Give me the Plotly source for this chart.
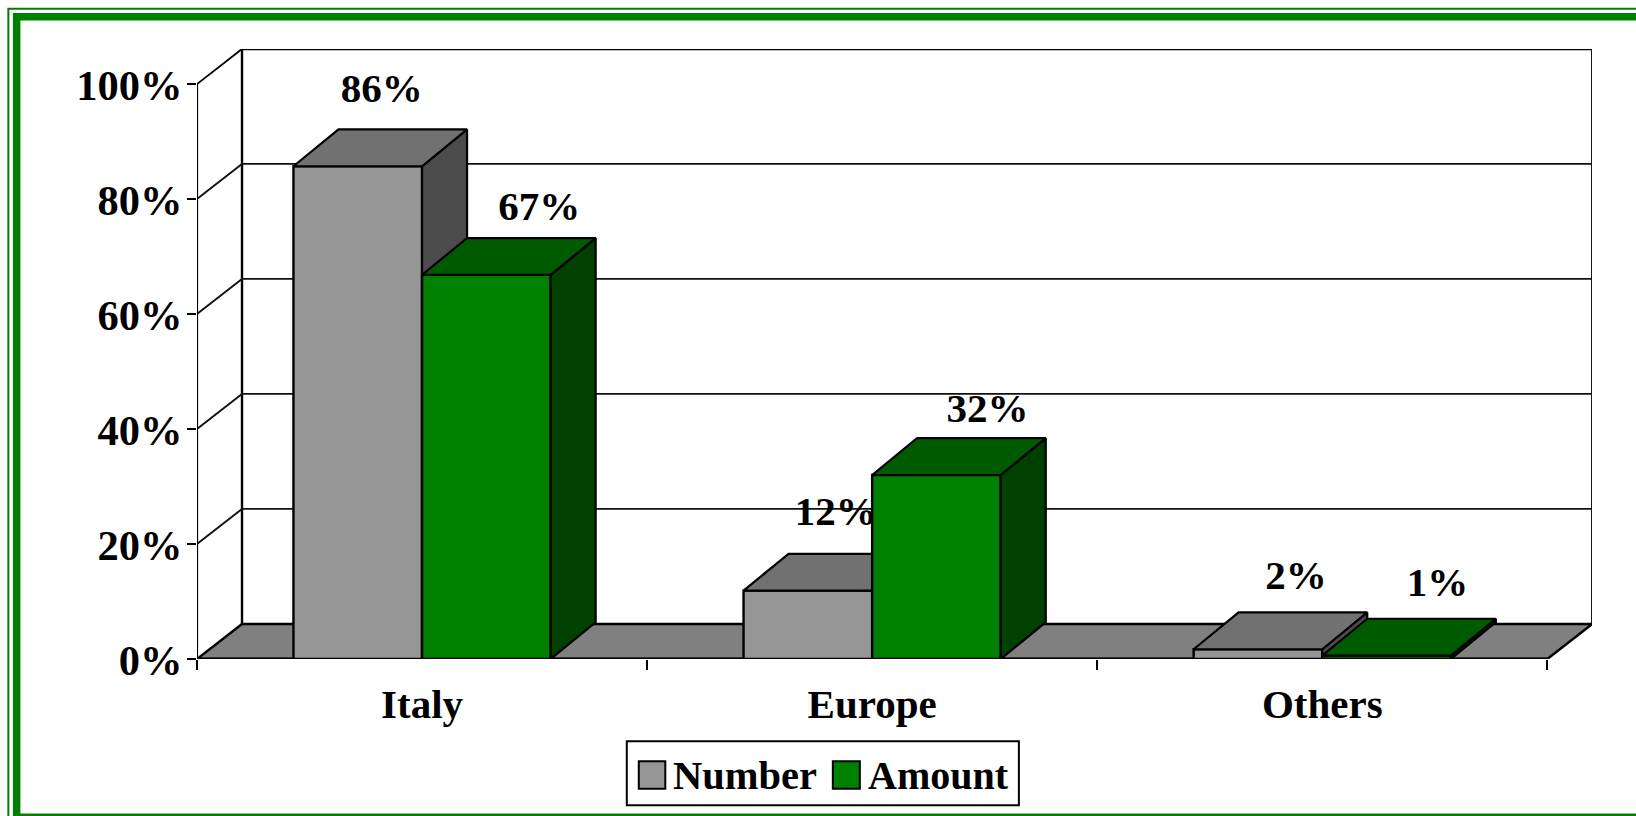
import plotly.graph_objects as go

# ---- data ----
CATEGORIES = ["Italy", "Europe", "Others"]
NUMBER = [85.7, 11.9, 1.7]
AMOUNT = [66.8, 32.0, 0.6]
Y_TICKS = [0, 20, 40, 60, 80, 100]
SERIES_NAMES = ["Number", "Amount"]

# ---- style / geometry ----
W, H = 1636, 816
FONT = "Liberation Serif"
FS = 41
X0_PX, X_UNIT_PX = 197.3, 450.0       # pixel of x=0, pixels per category
Y0_PX, Y_UNIT_PX = 658.7, 5.747       # pixel of 0 %, pixels per 1 %
RIGHT_PX, TOP_PX = 1592.0, 49.0
DX, DY = 0.1, 6.1                     # oblique depth of the walls in axis units
BAR_DY = 6.4                          # oblique depth of the bars in axis units
BAR_W = 2 / 7
GREY = ("#969696", "#717171", "#4b4b4b")
GREEN = ("#008000", "#005a00", "#004000")
FLOOR = "#808080"
FRAME = "#008000"
NUDGE_X = [[24, 28, 38], [53, 51, 51]]   # label centre, px right of the bar centre
NUDGE_Y = [[37.5, 39.3, 33.3], [28.3, 26.3, 33.3]]  # label centre, px above the rear top edge

x_max = (RIGHT_PX - X0_PX) / X_UNIT_PX
y_max = (Y0_PX - TOP_PX) / Y_UNIT_PX
n = len(CATEGORIES)


def px(x):
    return (x - X0_PX) / (RIGHT_PX - X0_PX)


def py(y):
    return (Y0_PX - y) / (Y0_PX - TOP_PX)


fig = go.Figure()


def line(xs, ys, width=2, color="black", yaxis="y"):
    fig.add_trace(go.Scatter(x=xs, y=ys, mode="lines", yaxis=yaxis, showlegend=False,
                             hoverinfo="skip", line=dict(color=color, width=width)))


# floor
fig.add_trace(go.Scatter(x=[0, n, n + DX, DX, 0], y=[0, 0, DY, DY, 0], mode="lines", fill="toself",
                         fillcolor=FLOOR, line=dict(color="black", width=2.5), showlegend=False,
                         hoverinfo="skip"))
# back wall and gridlines
line([DX, DX, n + DX, n + DX], [DY, 100 + DY, 100 + DY, DY], 2.4)
for t in Y_TICKS[1:-1]:
    line([0, DX, n + DX], [t, t + DY, t + DY], 1.8, "#111111")
line([0, DX], [100, 100 + DY], 1.8)
line([0, 0], [0, 100], 2.2)
line([0, n], [0, 0], 3)


def series(values, name, colors, offset, yaxis, idx):
    centers = [i + 0.5 + offset for i in range(n)]
    fig.add_trace(go.Bar(x=centers, y=values, width=BAR_W, name=name, yaxis=yaxis, showlegend=False,
                         marker=dict(color=colors[0], line=dict(color="black", width=2.4))))
    tx, ty, sx, sy = [], [], [], []
    for c, v in zip(centers, values):
        a, b = c - BAR_W / 2, c + BAR_W / 2
        tx += [a, b, b + DX, a + DX, a, None]
        ty += [v, v, v + BAR_DY, v + BAR_DY, v, None]
        sx += [b, b + DX, b + DX, b, b, None]
        sy += [0, BAR_DY, v + BAR_DY, v, 0, None]
    fig.add_trace(go.Scatter(x=sx, y=sy, mode="lines", fill="toself", fillcolor=colors[2], yaxis=yaxis,
                             line=dict(color="black", width=2.2), showlegend=False, hoverinfo="skip"))
    fig.add_trace(go.Scatter(x=tx, y=ty, mode="lines", fill="toself", fillcolor=colors[1], yaxis=yaxis,
                             line=dict(color="black", width=2.2), showlegend=False, hoverinfo="skip"))
    fig.add_trace(go.Scatter(
        x=[c + NUDGE_X[idx][i] / X_UNIT_PX for i, c in enumerate(centers)],
        y=[v + BAR_DY + NUDGE_Y[idx][i] / Y_UNIT_PX for i, v in enumerate(values)],
        mode="text", text=[f"{round(v)}%" for v in values], textposition="middle center",
        textfont=dict(family=FONT, size=FS, color="black", weight="bold"), yaxis=yaxis,
        showlegend=False, hoverinfo="skip", cliponaxis=False))


series(NUMBER, SERIES_NAMES[0], GREY, -1 / 7, "y2", 0)
series(AMOUNT, SERIES_NAMES[1], GREEN, 1 / 7, "y3", 1)

shapes = []


def rect(x0, y0, x1, y1, fill=None, lw=2, color="black"):
    shapes.append(dict(type="rect", xref="paper", yref="paper", x0=px(x0), x1=px(x1), y0=py(y0), y1=py(y1),
                       fillcolor=fill if fill else "rgba(0,0,0,0)", line=dict(color=color, width=lw)))


# page frame
rect(8.7, 8.7, W + 20, H + 20, None, 2, FRAME)
rect(17, 16.7, W + 20, 816.8, None, 7.5, FRAME)
# legend box
rect(627, 741, 1019, 805, "white", 2)
rect(639, 761, 665.5, 788.5, GREY[0], 2)
rect(833, 761, 860, 788.5, GREEN[0], 2)
annotations = [
    dict(xref="paper", yref="paper", x=px(x), y=py(775), text=t, showarrow=False, xanchor="left",
         yanchor="middle", align="left", font=dict(family=FONT, size=s, color="black", weight="bold"))
    for x, t, s in zip([671, 866], SERIES_NAMES, [40.5, 40])
]

axis_font = dict(family=FONT, size=FS, color="black", weight="bold")
fig.update_layout(
    width=W, height=H, showlegend=False, paper_bgcolor="white", plot_bgcolor="white",
    margin=dict(l=X0_PX, r=W - RIGHT_PX, t=TOP_PX, b=H - Y0_PX, autoexpand=False),
    xaxis=dict(range=[0, x_max], tickmode="array", tickvals=[i + 0.5 for i in range(n)], ticktext=CATEGORIES,
               ticks="", showgrid=False, zeroline=False, showline=False, tickfont=axis_font,
               ticklabelstandoff=17, fixedrange=True,
               minor=dict(ticks="outside", tickmode="array", tickvals=list(range(n + 1)), ticklen=10,
                          tickwidth=2, tickcolor="black", showgrid=False)),
    yaxis=dict(range=[0, y_max], tickmode="array", tickvals=Y_TICKS, ticktext=[f"{t}%" for t in Y_TICKS],
               ticks="outside", ticklen=9, tickwidth=2, tickcolor="black", showgrid=False, zeroline=False,
               showline=False, tickfont=dict(family=FONT, size=42.5, color="black", weight="bold"),
               ticklabelstandoff=-4, ticklabelshift=1, fixedrange=True),
    yaxis2=dict(range=[0, y_max], overlaying="y", visible=False, fixedrange=True),
    yaxis3=dict(range=[0, y_max], overlaying="y", visible=False, fixedrange=True),
    shapes=shapes, annotations=annotations,
)
fig.write_html("out.html", config={"displayModeBar": False},
               post_script="document.body.style.margin='0';document.documentElement.style.overflow='hidden';")
